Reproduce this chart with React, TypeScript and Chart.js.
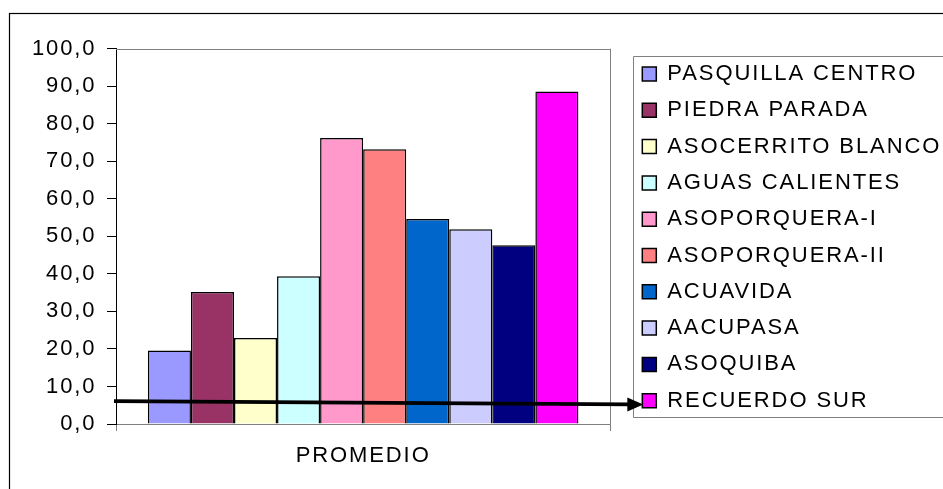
import React, { useEffect, useRef } from 'react';
import { Chart, registerables } from 'chart.js';

Chart.register(...registerables);

const CATEGORIES = ['PROMEDIO'];
const SERIES_NAMES = [
  'PASQUILLA CENTRO',
  'PIEDRA PARADA',
  'ASOCERRITO BLANCO',
  'AGUAS CALIENTES',
  'ASOPORQUERA-I',
  'ASOPORQUERA-II',
  'ACUAVIDA',
  'AACUPASA',
  'ASOQUIBA',
  'RECUERDO SUR',
];
const SERIES_VALUES = [19.6, 35.2, 22.9, 39.4, 76.2, 73.2, 54.6, 51.9, 47.6, 88.6];
const SERIES_COLORS = [
  '#9999FF',
  '#993366',
  '#FFFFCC',
  '#CCFFFF',
  '#FF99CC',
  '#FF8080',
  '#0066CC',
  '#CCCCFF',
  '#000080',
  '#FF00FF',
];
const Y_MIN = 0;
const Y_MAX = 100;
const Y_STEP = 10;
const ARROW_START_VALUE = 6.1;
const ARROW_END_VALUE = 5.2;

const FONT_FAMILY = "'Liberation Sans', Arial, sans-serif";
const LETTER_SPACING = '1.9px';
const CANVAS_W = 946;
const CANVAS_H = 489;

const spacingPlugin = {
  id: 'letterSpacing',
  beforeUpdate(chart: any) {
    chart.ctx.letterSpacing = LETTER_SPACING;
  },
  beforeDraw(chart: any) {
    chart.ctx.letterSpacing = LETTER_SPACING;
  },
};

const decorPlugin = {
  id: 'decor',
  beforeDraw(chart: any) {
    const ctx = chart.ctx;
    ctx.save();
    ctx.fillStyle = '#fff';
    ctx.fillRect(0, 0, chart.width, chart.height);
    ctx.restore();
  },
  afterDraw(chart: any) {
    const ctx = chart.ctx;
    const area = chart.chartArea;
    ctx.save();
    // outer frame
    ctx.strokeStyle = '#000';
    ctx.lineWidth = 1.2;
    ctx.strokeRect(9.5, 13.5, chart.width + 20, chart.height + 20);
    // plot-area top line
    ctx.strokeStyle = '#808080';
    ctx.lineWidth = 1;
    ctx.beginPath();
    ctx.moveTo(area.left, Math.round(area.top) + 0.5);
    ctx.lineTo(area.right, Math.round(area.top) + 0.5);
    ctx.stroke();
    // legend frame
    const boxes = chart.legend.legendHitBoxes;
    if (boxes && boxes.length) {
      const first = boxes[0];
      const last = boxes[boxes.length - 1];
      const lx = Math.round(first.left - 9) + 0.5;
      const ty = Math.round(first.top - 7.3) + 0.5;
      const by = Math.round(last.top + last.height + 5.7) + 0.5;
      ctx.strokeStyle = '#808080';
      ctx.beginPath();
      ctx.moveTo(chart.width + 5, ty);
      ctx.lineTo(lx, ty);
      ctx.lineTo(lx, by);
      ctx.lineTo(chart.width + 5, by);
      ctx.stroke();

      // arrow
      const ys = chart.scales.y;
      const x0 = area.left - 2;
      const y0 = ys.getPixelForValue(ARROW_START_VALUE);
      const tipX = last.left + 1;
      const y1 = ys.getPixelForValue(ARROW_END_VALUE);
      const headLen = 16;
      const headHalf = 7;
      const baseX = tipX - headLen;
      const yBase = y0 + ((y1 - y0) * (baseX - x0)) / (tipX - x0);
      ctx.strokeStyle = '#000';
      ctx.fillStyle = '#000';
      ctx.lineWidth = 3.6;
      ctx.beginPath();
      ctx.moveTo(x0, y0);
      ctx.lineTo(baseX + 2, yBase);
      ctx.stroke();
      ctx.beginPath();
      ctx.moveTo(tipX, y1);
      ctx.lineTo(baseX, yBase - headHalf);
      ctx.lineTo(baseX, yBase + headHalf);
      ctx.closePath();
      ctx.fill();
    }
    ctx.restore();
  },
};

function formatTick(v: number) {
  return Number(v).toFixed(1).replace('.', ',');
}

export default function App() {
  const canvasRef = useRef<HTMLCanvasElement | null>(null);

  useEffect(() => {
    if (!canvasRef.current) return;
    const font = { family: FONT_FAMILY, size: 22 };
    const chart = new Chart(canvasRef.current, {
      type: 'bar',
      data: {
        labels: CATEGORIES,
        datasets: SERIES_NAMES.map((name, i) => ({
          label: name,
          data: [SERIES_VALUES[i]],
          backgroundColor: SERIES_COLORS[i],
          borderColor: '#000',
          borderWidth: 1.5,
          barPercentage: 1,
          categoryPercentage: 0.871,
          yAxisID: 'y',
        })),
      },
      options: {
        responsive: false,
        animation: false,
        events: [],
        layout: { padding: { top: 48.7, right: 0, bottom: 0, left: 0 } },
        plugins: {
          title: { display: false },
          tooltip: { enabled: false },
          legend: {
            display: true,
            position: 'right',
            align: 'start',
            maxWidth: 318,
            labels: {
              boxWidth: 14,
              boxHeight: 14,
              padding: 14.3,
              color: '#000',
              font,
            },
          },
        },
        scales: {
          x: {
            type: 'category',
            offset: true,
            grid: {
              display: true,
              offset: true,
              drawOnChartArea: true,
              drawTicks: true,
              tickLength: 7,
              color: '#808080',
              tickColor: '#808080',
            },
            border: { display: true, color: '#808080', width: 1 },
            ticks: { color: '#000', padding: 12, font },
            afterFit: (s: any) => {
              s.height = 65;
            },
          },
          y: {
            type: 'linear',
            min: Y_MIN,
            max: Y_MAX,
            grid: {
              display: true,
              drawOnChartArea: false,
              drawTicks: true,
              tickLength: 9,
              tickColor: '#000',
            },
            border: { display: true, color: '#000', width: 1 },
            ticks: {
              stepSize: Y_STEP,
              color: '#000',
              padding: 10.5,
              font,
              callback: (v: any) => formatTick(v),
            },
            afterFit: (s: any) => {
              s.width = 116;
            },
          },
          y2: {
            type: 'linear',
            position: 'right',
            display: true,
            grid: { display: false, drawTicks: false },
            border: { display: false },
            ticks: { display: false },
            afterFit: (s: any) => {
              s.width = 17.7;
            },
          },
        },
      } as any,
      plugins: [spacingPlugin, decorPlugin],
    });
    return () => chart.destroy();
  }, []);

  return (
    <div
      style={{
        position: 'fixed',
        left: 0,
        top: 0,
        width: 943,
        height: 489,
        overflow: 'hidden',
        background: '#fff',
      }}
    >
      <canvas
        ref={canvasRef}
        width={CANVAS_W}
        height={CANVAS_H}
        style={{ display: 'block', width: CANVAS_W, height: CANVAS_H }}
      />
    </div>
  );
}
